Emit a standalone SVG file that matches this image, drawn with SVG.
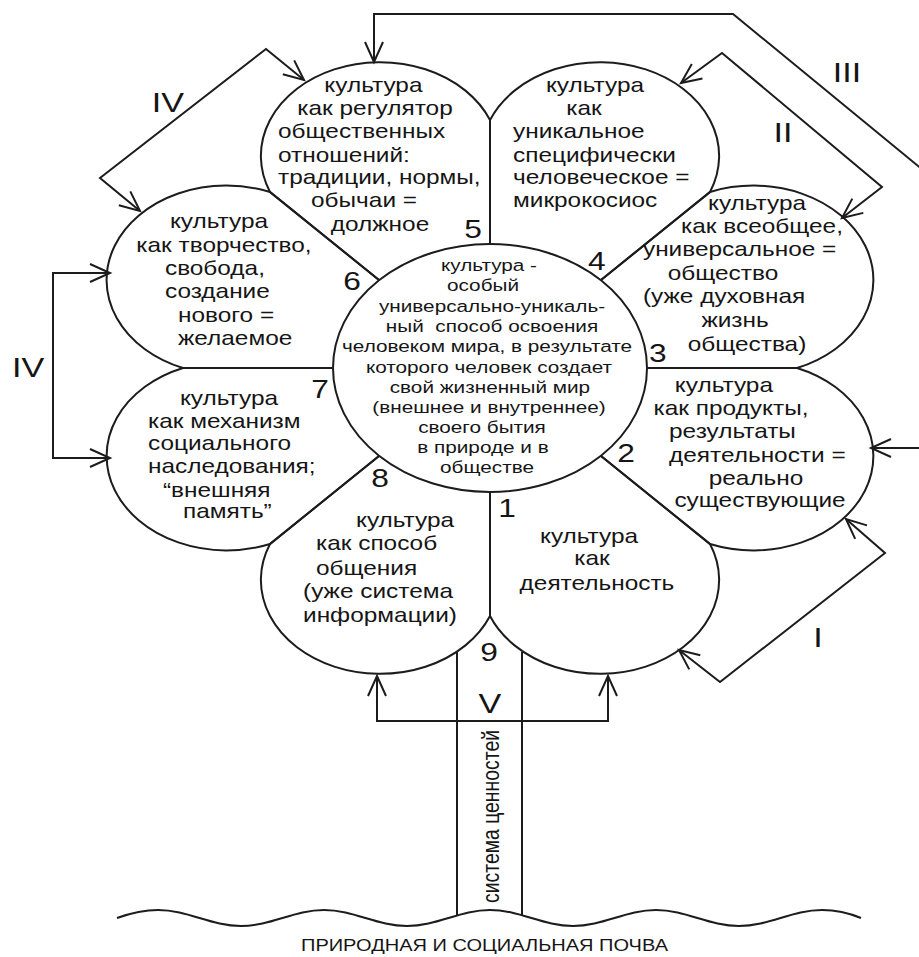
<svg xmlns="http://www.w3.org/2000/svg" width="919" height="957" viewBox="0 0 919 957">
<style>
.ol{fill:none;stroke:#1c1c1c;stroke-width:2;stroke-linejoin:miter}
.cn{fill:none;stroke:#1c1c1c;stroke-width:2}
text{font-family:"Liberation Sans",Arial,sans-serif;fill:#151515}
.t{font-size:20px;text-anchor:middle}
.c{font-size:17px;text-anchor:middle}
.n{font-size:26px;text-anchor:middle}
.r{font-size:28px;text-anchor:middle}
.s{text-anchor:start}
</style>
<defs>
<marker id="ah" viewBox="-22 -11 24 22" refX="0" refY="0" markerWidth="24" markerHeight="22" markerUnits="userSpaceOnUse" orient="auto-start-reverse" overflow="visible">
<path d="M-20,-9 L0,0 L-20,9" fill="none" stroke="#1c1c1c" stroke-width="2"/>
</marker>
</defs>
<rect width="919" height="957" fill="#ffffff"/>

<g id="center">
<ellipse class="ol" cx="490" cy="368" rx="157" ry="124"/>
<text class="c" transform="scale(1.22 1)" xml:space="preserve"><tspan x="400.8" y="271">культура -</tspan><tspan x="395.9" y="291">особый</tspan><tspan x="403.3" y="312">универсально-уникаль-</tspan><tspan x="403.3" y="332">ный  способ освоения</tspan><tspan x="399.2" y="352">человеком мира, в результате</tspan><tspan x="400.8" y="373">которого человек создает</tspan><tspan x="401.6" y="393">свой жизненный мир</tspan><tspan x="400.8" y="413">(внешнее и внутреннее)</tspan><tspan x="395.1" y="433">своего бытия</tspan><tspan x="395.9" y="453">в природе и в</tspan><tspan x="399.2" y="473">обществе</tspan></text>
</g>

<g id="petal-5">
<path class="ol" d="M379,280 L270,192 A1.27 1 0 0 1 490,120 L490,244"/>
<text class="t" transform="scale(1.22 1)"><tspan x="306.1" y="92">культура</tspan><tspan x="307.4" y="115">как регулятор</tspan><tspan class="s" x="227.9" y="138">общественных</tspan><tspan class="s" x="227.9" y="162">отношений:</tspan><tspan class="s" x="227.9" y="184">традиции, нормы,</tspan><tspan x="298.4" y="207">обычаи =</tspan><tspan x="311.5" y="231">должное</tspan></text>
</g>

<g id="petal-4">
<path class="ol" d="M490,244 L490,120 A1.27 1 0 0 1 710,192 L601,280"/>
<text class="t" transform="scale(1.22 1)"><tspan x="487.7" y="92">культура</tspan><tspan x="478.7" y="115">как</tspan><tspan class="s" x="420.5" y="138">уникальное</tspan><tspan class="s" x="420.5" y="162">специфически</tspan><tspan class="s" x="420.5" y="184">человеческое =</tspan><tspan class="s" x="420.5" y="207">микрокосиос</tspan></text>
</g>

<g id="petal-3">
<path class="ol" d="M601,280 L710,192 A1.27 1 0 0 1 797,368 L647,368"/>
<text class="t" transform="scale(1.22 1)"><tspan x="620.5" y="210">культура</tspan><tspan x="624.6" y="233">как всеобщее,</tspan><tspan class="s" x="527" y="256">универсальное =</tspan><tspan x="592.6" y="280">общество</tspan><tspan class="s" x="527" y="303">(уже духовная</tspan><tspan x="602.5" y="327">жизнь</tspan><tspan x="612.3" y="351">общества)</tspan></text>
</g>

<g id="petal-2">
<path class="ol" d="M647,368 L797,368 A1.27 1 0 0 1 710,544 L601,456"/>
<text class="t" transform="scale(1.22 1)"><tspan x="593.4" y="392">культура</tspan><tspan x="599.2" y="415">как продукты,</tspan><tspan class="s" x="548.4" y="438">результаты</tspan><tspan class="s" x="548.4" y="462">деятельности =</tspan><tspan x="619.7" y="485">реально</tspan><tspan x="623" y="507">существующие</tspan></text>
</g>

<g id="petal-1">
<path class="ol" d="M601,456 L710,544 A1.27 1 0 0 1 490,616 L490,492"/>
<text class="t" transform="scale(1.22 1)"><tspan x="482.8" y="543">культура</tspan><tspan x="485.2" y="565">как</tspan><tspan x="489.3" y="590">деятельность</tspan></text>
</g>

<g id="petal-9">
<path class="ol" d="M490,492 L490,616 A1.27 1 0 0 1 270,544 L379,456"/>
<text class="t" transform="scale(1.22 1)"><tspan x="332" y="527">культура</tspan><tspan class="s" x="259" y="550">как способ</tspan><tspan class="s" x="259" y="575">общения</tspan><tspan class="s" x="248.4" y="598">(уже система</tspan><tspan class="s" x="248.4" y="622">информации)</tspan></text>
</g>

<g id="petal-8">
<path class="ol" d="M379,456 L270,544 A1.27 1 0 0 1 183,368 L333,368"/>
<text class="t" transform="scale(1.22 1)"><tspan x="187.7" y="405">культура</tspan><tspan class="s" x="121.3" y="428">как механизм</tspan><tspan class="s" x="121.3" y="450">социального</tspan><tspan class="s" x="121.3" y="473">наследования;</tspan><tspan class="s" x="133.6" y="497">“внешняя</tspan><tspan class="s" x="150" y="518">память”</tspan></text>
</g>

<g id="petal-6">
<path class="ol" d="M333,368 L183,368 A1.27 1 0 0 1 270,192 L379,280"/>
<text class="t" transform="scale(1.22 1)"><tspan x="179.5" y="228">культура</tspan><tspan x="183.6" y="252">как творчество,</tspan><tspan class="s" x="135.2" y="275">свобода,</tspan><tspan class="s" x="135.2" y="298">создание</tspan><tspan class="s" x="145.9" y="322">нового =</tspan><tspan class="s" x="145.9" y="345">желаемое</tspan></text>
</g>

<g id="numbers">
<text class="n" transform="scale(1.22 1)"><tspan x="415.6" y="517">1</tspan><tspan x="513.1" y="462">2</tspan><tspan x="539.3" y="362">3</tspan><tspan x="489.3" y="270">4</tspan><tspan x="387.7" y="238">5</tspan><tspan x="288.5" y="290">6</tspan><tspan x="262.3" y="398">7</tspan><tspan x="311.5" y="487">8</tspan><tspan x="400.8" y="661">9</tspan></text>
</g>

<g id="trunk">
<line class="ol" x1="457" y1="652" x2="457" y2="915"/>
<line class="ol" x1="522" y1="652" x2="522" y2="915"/>
<text transform="translate(499 816.5) rotate(-90) scale(1 1.22)" font-size="19" text-anchor="middle" textLength="173" lengthAdjust="spacingAndGlyphs">система ценностей</text>
</g>

<g id="soil">
<path class="ol" d="M117,918 C131,913 143,910 158,910 C188,910 211,926 241,926 C271,926 294,910 324,910 C354,910 377,926 407,926 C437,926 460,910 490,910 C520,910 543,926 573,926 C603,926 626,910 656,910 C686,910 709,926 739,926 C769,926 792,910 822,910 C837,910 849,913 861,918"/>
<text x="484.5" y="951" font-size="17" text-anchor="middle" textLength="367" lengthAdjust="spacingAndGlyphs">ПРИРОДНАЯ И СОЦИАЛЬНАЯ ПОЧВА</text>
</g>

<g id="connectors">
<path class="cn" d="M940,184 L733,14 L374,14 L374,62" marker-end="url(#ah)"/>
<path class="cn" d="M930,448 L871,448" marker-end="url(#ah)"/>
<path class="cn" d="M681,83 L722,53 L882,187 L842,218" marker-start="url(#ah)" marker-end="url(#ah)"/>
<path class="cn" d="M304,80 L266,49 L100,178 L140,211" marker-start="url(#ah)" marker-end="url(#ah)"/>
<path class="cn" d="M110,273 L53,273 L53,458 L110,458" marker-start="url(#ah)" marker-end="url(#ah)"/>
<path class="cn" d="M377,676 L377,721 L608,721 L608,676" marker-start="url(#ah)" marker-end="url(#ah)"/>
<path class="cn" d="M846,519 L885,553 L720,682 L679,650" marker-start="url(#ah)" marker-end="url(#ah)"/>
<text class="r" transform="scale(1.22 1)"><tspan x="137.7" y="112">IV</tspan><tspan x="23" y="377">IV</tspan><tspan x="694.3" y="82">III</tspan><tspan x="641.8" y="142">II</tspan><tspan x="401.6" y="713">V</tspan><tspan x="670.5" y="647">I</tspan></text>
</g>
</svg>
